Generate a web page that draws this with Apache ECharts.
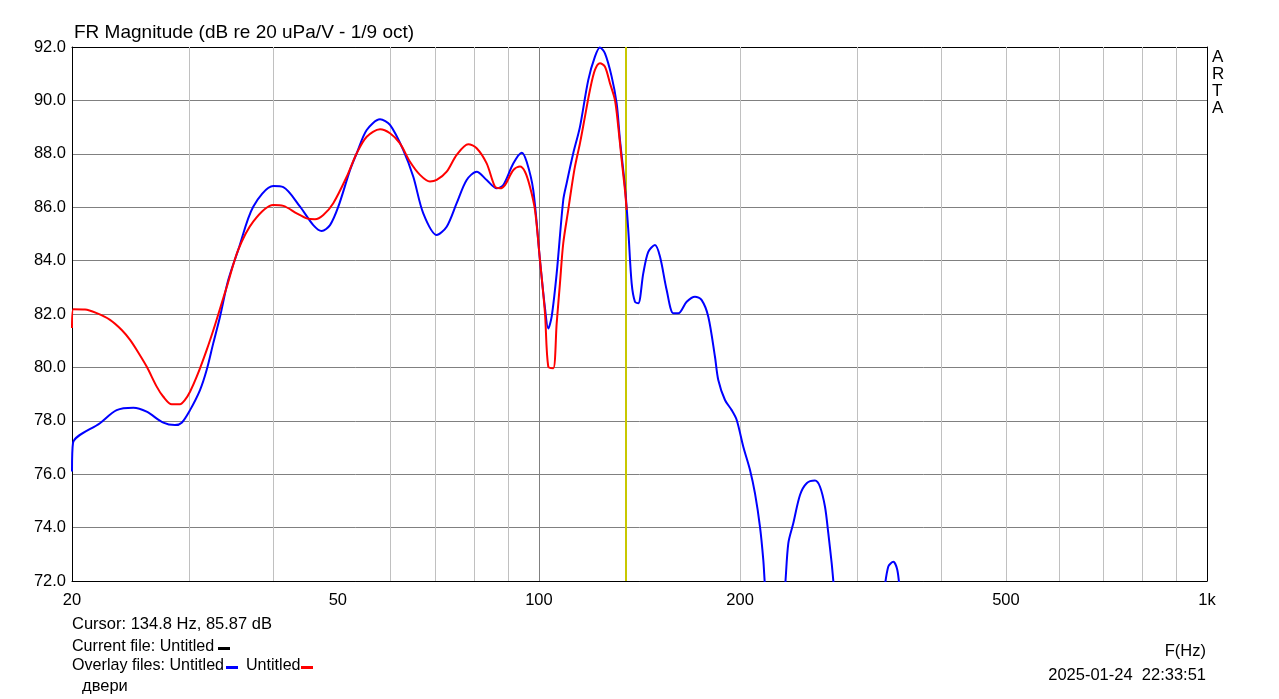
<!DOCTYPE html>
<html><head><meta charset="utf-8">
<script src="https://cdn.jsdelivr.net/npm/echarts@6/dist/echarts.min.js"></script>
<style>html,body{margin:0;padding:0;background:#fff}#c{width:1279px;height:699px}</style>
</head><body><div id="c"></div>
<script>
// ---- data ----
const blueFreq = [20, 20.07, 22.02, 23.33, 24.71, 25.87, 27.40, 28.52, 29.19, 30.04, 31.09, 31.81, 32.54, 33.31, 34.27, 35.47, 37.35, 40.03, 41.43, 43.89, 45.94, 47.29, 48.67, 50.08, 52.14, 53.36, 55.23, 57.82, 59.85, 62.65, 64.85, 67.12, 70.30, 72.76, 75.31, 77.95, 80.68, 83.51, 86.44, 88.43, 91.53, 94.22, 95.86, 98.06, 100.35, 102.10, 103.26, 104.48, 106.30, 108.74, 110.02, 112.55, 115.18, 118.52, 121.29, 123.40, 125.55, 128.48, 130.71, 132.21, 134.51, 136.05, 137.65, 139.22, 140.82, 143.27, 145.76, 149.17, 151.76, 155.30, 158.89, 161.65, 166.40, 171.23, 175.23, 179.26, 183.44, 185.54, 189.87, 194.31, 197.70, 202.24, 206.98, 210.57, 214.23, 216.68, 218.5, 225.6, 233.0, 236.19, 240.29, 245.91, 251.65, 258.95, 263.45, 268.03, 271.10, 274.29, 277.0, 300, 328, 333.4, 339.2, 343.9, 347, 360, 400];
const blueDb = [76.1, 77.17, 77.91, 78.40, 78.49, 78.34, 77.93, 77.84, 77.93, 78.40, 79.15, 79.90, 80.90, 81.90, 83.27, 84.40, 86.02, 86.79, 86.75, 86.02, 85.33, 85.11, 85.33, 86.02, 87.39, 88.02, 88.89, 89.29, 89.08, 88.14, 87.14, 85.77, 84.96, 85.27, 86.15, 87.02, 87.33, 87.02, 86.71, 86.83, 87.64, 88.04, 87.70, 86.64, 84.02, 82.22, 81.46, 81.90, 83.52, 86.27, 86.90, 88.02, 89.01, 90.76, 91.64, 91.98, 91.76, 90.89, 89.89, 88.52, 86.77, 85.15, 83.15, 82.46, 82.40, 83.52, 84.33, 84.58, 84.15, 82.90, 82.03, 82.03, 82.46, 82.65, 82.52, 81.90, 80.40, 79.53, 78.78, 78.40, 78.03, 77.03, 76.16, 75.28, 74.03, 72.79, 71.5, 69.0, 71.5, 73.41, 74.16, 75.22, 75.66, 75.76, 75.53, 74.78, 73.79, 72.66, 71.6, 66.0, 71.5, 72.54, 72.72, 72.41, 71.6, 68.0, 65.0];
const redFreq = [20, 20.09, 20.92, 21.78, 22.80, 23.74, 24.43, 25.00, 25.87, 26.78, 27.40, 28.20, 29.02, 29.52, 30.04, 30.74, 31.81, 32.74, 33.69, 34.08, 35.47, 37.35, 40.03, 41.43, 43.39, 44.91, 46.21, 47.56, 49.22, 51.55, 53.36, 55.23, 57.82, 59.85, 61.94, 64.12, 66.36, 68.69, 70.30, 72.76, 75.31, 78.38, 80.68, 83.51, 85.93, 87.43, 88.95, 91.53, 93.67, 95.30, 96.95, 98.64, 100.35, 102.10, 103.26, 105.06, 106.30, 107.51, 108.74, 110.63, 111.94, 113.21, 115.18, 117.18, 119.22, 121.29, 123.40, 125.55, 127.73, 129.95, 131.44, 132.99, 134.51, 135.30];
const redDb = [81.48, 82.18, 82.17, 82.03, 81.78, 81.40, 81.03, 80.65, 80.03, 79.28, 78.90, 78.62, 78.62, 78.78, 79.09, 79.65, 80.65, 81.59, 82.60, 83.00, 84.40, 85.46, 86.08, 86.05, 85.77, 85.58, 85.55, 85.71, 86.15, 87.14, 88.02, 88.64, 88.92, 88.77, 88.39, 87.70, 87.21, 86.96, 87.02, 87.33, 87.96, 88.36, 88.21, 87.64, 86.77, 86.71, 86.83, 87.39, 87.52, 87.33, 86.77, 85.90, 84.02, 82.03, 80.03, 79.97, 81.65, 83.15, 84.65, 85.90, 86.77, 87.52, 88.39, 89.39, 90.39, 91.14, 91.39, 91.26, 90.64, 90.01, 89.01, 87.77, 86.64, 85.90];
const xTickValues = [20, 50, 100, 200, 500, 1000];
const xMinorGrid = [30, 40, 60, 70, 80, 90, 200, 300, 400, 500, 600, 700, 800, 900];
const xMajorGrid = [100];
const cursorFreq = 134.8;
const titleText = 'FR Magnitude (dB re 20 uPa/V - 1/9 oct)';
const cursorText = 'Cursor: 134.8 Hz, 85.87 dB';
const currentText = 'Current file: Untitled';
const overlayText = 'Overlay files: Untitled';
const overlayText2 = 'Untitled';
const noteText = 'двери';
const xAxisName = 'F(Hz)';
const dateText = '2025-01-24  22:33:51';
const brandLetters = ['A', 'R', 'T', 'A'];

const FONT = '"Liberation Sans", Arial, sans-serif';
const chart = echarts.init(document.getElementById('c'), null, {renderer: 'canvas'});

const ySplitColors = [];
for (let i = 0; i <= 10; i++) ySplitColors.push(i === 0 || i === 10 ? '#000000' : '#808080');

const gridLines = xMinorGrid.map(v => ({xAxis: v, lineStyle: {color: '#c0c0c0', width: 1, type: 'solid'}}))
  .concat(xMajorGrid.map(v => ({xAxis: v, lineStyle: {color: '#808080', width: 1, type: 'solid'}})));

const txt = (text, x, y, size, extra) => Object.assign({
  type: 'text', silent: true, z: 10,
  style: Object.assign({text: text, x: x, y: y, fill: '#000', font: size + 'px ' + FONT, verticalAlign: 'middle', align: 'left'}, extra || {})
});
const dash = (x, y, color) => ({type: 'rect', silent: true, z: 10, shape: {x: x, y: y - 1.5, width: 12, height: 3}, style: {fill: color}});

const graphics = [
  txt(titleText, 74, 33, 19),
  txt(cursorText, 72, 624, 16.5),
  txt(currentText, 72, 647, 16.1),
  dash(218, 648.5, '#000000'),
  txt(overlayText, 72, 666, 16.1),
  dash(226, 667.5, '#0000ff'),
  txt(overlayText2, 246, 666, 16.1),
  dash(301, 667.5, '#ff0000'),
  txt(noteText, 82, 686, 16.5),
  txt(xAxisName, 1206, 651, 16.5, {align: 'right'}),
  txt(dateText, 1206, 675, 16.5, {align: 'right'})
];
brandLetters.forEach((l, i) => graphics.push(txt(l, 1212, 57 + i * 17, 17)));

chart.setOption({
  animation: false,
  backgroundColor: '#ffffff',
  grid: {left: 72, right: 72, top: 47, bottom: 118, containLabel: false},
  xAxis: [{
    type: 'log', logBase: 10, min: 20, max: 1000,
    axisLine: {show: true, onZero: false, lineStyle: {color: '#000', width: 1}},
    axisTick: {show: false},
    splitLine: {show: false},
    minorTick: {show: false},
    axisLabel: {
      customValues: xTickValues, margin: 11, color: '#000', fontSize: 16.5, fontFamily: FONT,
      formatter: v => (v >= 1000 ? (v / 1000) + 'k' : String(Math.round(v)))
    }
  }, {
    type: 'log', logBase: 10, min: 20, max: 1000, position: 'top',
    axisLine: {show: true, onZero: false, lineStyle: {color: '#000', width: 1}},
    axisTick: {show: false}, axisLabel: {show: false}, splitLine: {show: false}
  }],
  yAxis: [{
    type: 'value', min: 72, max: 92, interval: 2,
    axisLine: {show: true, onZero: false, lineStyle: {color: '#000', width: 1}},
    axisTick: {show: false},
    splitLine: {show: true, lineStyle: {color: ySplitColors, width: 1}},
    axisLabel: {margin: 6, color: '#000', fontSize: 16.5, fontFamily: FONT, formatter: v => v.toFixed(1)}
  }, {
    type: 'value', min: 72, max: 92, interval: 2, position: 'right',
    axisLine: {show: true, onZero: false, lineStyle: {color: '#000', width: 1}},
    axisTick: {show: false}, axisLabel: {show: false}, splitLine: {show: false}
  }],
  series: [{
    name: 'grid', type: 'line', data: [], z: 1, silent: true,
    markLine: {silent: true, z: 1, symbol: ['none', 'none'], animation: false, label: {show: false}, data: gridLines}
  }, {
    name: 'cursor', type: 'line', data: [], z: 1, silent: true,
    markLine: {silent: true, z: 1, symbol: ['none', 'none'], animation: false, label: {show: false},
      data: [{xAxis: cursorFreq, lineStyle: {color: '#c8c800', width: 2, type: 'solid'}}]}
  }, {
    name: 'Untitled (blue)', type: 'line', z: 3, smooth: 0.3, showSymbol: false, clip: true,
    lineStyle: {color: '#0000ff', width: 2}, itemStyle: {color: '#0000ff'},
    data: blueFreq.map((f, i) => [f, blueDb[i]])
  }, {
    name: 'Untitled (red)', type: 'line', z: 4, smooth: 0.3, showSymbol: false, clip: true,
    lineStyle: {color: '#ff0000', width: 2}, itemStyle: {color: '#ff0000'},
    data: redFreq.map((f, i) => [f, redDb[i]])
  }],
  graphic: graphics
});
</script></body></html>
